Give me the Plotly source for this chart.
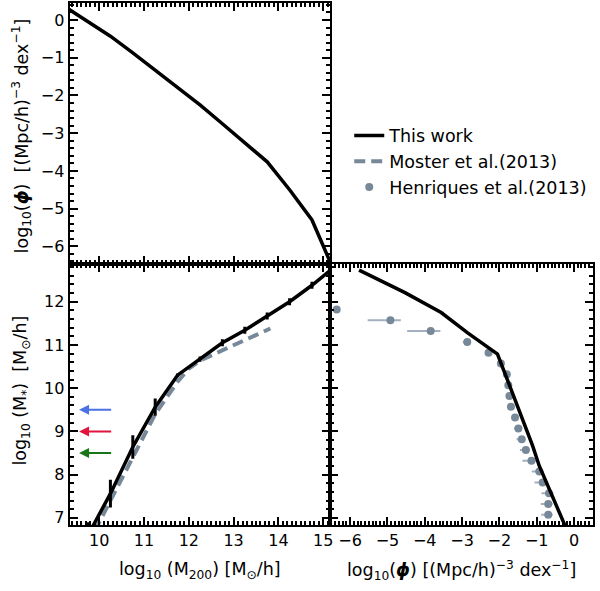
import plotly.graph_objects as go

# ---------------- data ----------------
# Top-left: halo mass function (This work)
hmf_logm = [9.25, 9.75, 10.25, 10.75, 11.25, 11.75, 12.25, 12.75, 13.25, 13.75, 14.25, 14.75, 15.25]
hmf_logphi = [0.34, -0.05, -0.43, -0.87, -1.33, -1.79, -2.25, -2.75, -3.25, -3.76, -4.50, -5.30, -6.67]

# Bottom-left: stellar-to-halo mass relation (This work)
shmr_logm = [9.75, 10.25, 10.75, 11.25, 11.75, 12.25, 12.75, 13.25, 13.75, 14.25, 14.75, 15.25]
shmr_logms = [6.60, 7.56, 8.64, 9.56, 10.30, 10.67, 11.05, 11.34, 11.67, 12.00, 12.38, 12.80]
shmr_err = [0.30, 0.32, 0.27, 0.20, 0.04, 0.06, 0.08, 0.08, 0.08, 0.08, 0.08, 0.08]

# Bottom-left: Moster et al. (2013)
moster_logm = [9.90, 10.25, 10.75, 11.25, 11.75, 12.00, 12.25, 12.75, 13.25, 13.82]
moster_logms = [6.70, 7.40, 8.45, 9.40, 10.15, 10.45, 10.64, 10.87, 11.10, 11.38]

# Bottom-right: stellar mass function (This work)
smf_logphi = [-5.76, -4.53, -3.56, -2.85, -2.05, -1.73, -1.42, -1.11, -0.93, -0.62, -0.18]
smf_logms = [12.73, 12.21, 11.75, 11.28, 10.79, 10.06, 9.37, 8.67, 8.20, 7.60, 6.70]

# Bottom-right: Henriques et al. (2013)
hen_logms = [11.82, 11.57, 11.32, 11.07, 10.82, 10.57, 10.32, 10.07, 9.82, 9.57,
             9.32, 9.07, 8.82, 8.57, 8.32, 8.07, 7.82, 7.57, 7.32, 7.07]
hen_logphi = [-6.36, -4.92, -3.84, -2.86, -2.29, -1.96, -1.80, -1.76, -1.73, -1.69,
              -1.58, -1.49, -1.40, -1.29, -1.14, -0.93, -0.84, -0.67, -0.69, -0.69]
hen_err_minus = [0.0, 0.61, 0.63, 0.12, 0.08, 0.06, 0.06, 0.06, 0.08, 0.08,
                 0.10, 0.12, 0.14, 0.16, 0.24, 0.20, 0.22, 0.20, 0.20, 0.19]
hen_err_plus = [0.0, 0.28, 0.26, 0.06, 0.05, 0.04, 0.05, 0.05, 0.05, 0.06,
                0.06, 0.07, 0.08, 0.10, 0.12, 0.12, 0.15, 0.12, 0.12, 0.12]

# Arrows (stellar-mass thresholds)
arrow_levels = [9.5, 9.0, 8.5]
arrow_colors = ["#4a72e6", "#e0143c", "#187518"]
arrow_x_start = 10.3
arrow_x_end = 9.55

# ---------------- figure ----------------
W, H = 600, 591
FONT = "DejaVu Sans"
GRAY = "#778899"

fig = go.Figure()

fig.add_trace(go.Scatter(x=hmf_logm, y=hmf_logphi, mode="lines",
                         line=dict(color="black", width=3.5),
                         name="This work", legendrank=1, legendgroup="a",
                         xaxis="x", yaxis="y"))

fig.add_trace(go.Scatter(x=moster_logm, y=moster_logms, mode="lines",
                         line=dict(color=GRAY, width=4, dash="11px,6px"),
                         name="Moster et al.(2013)", legendrank=2, legendgroup="b",
                         xaxis="x2", yaxis="y2"))

fig.add_trace(go.Scatter(x=shmr_logm, y=shmr_logms, mode="lines",
                         line=dict(color="black", width=3.5),
                         error_y=dict(type="data", array=shmr_err, color="black",
                                      thickness=3, width=0),
                         showlegend=False, xaxis="x2", yaxis="y2"))

fig.add_trace(go.Scatter(x=hen_logphi, y=hen_logms, mode="markers",
                         marker=dict(color=GRAY, size=8),
                         error_x=dict(type="data", symmetric=False, array=hen_err_plus,
                                      arrayminus=hen_err_minus, color="#a3b0c0",
                                      thickness=2, width=0),
                         name="Henriques et al.(2013)", legendrank=3, legendgroup="c",
                         xaxis="x3", yaxis="y3"))

fig.add_trace(go.Scatter(x=smf_logphi, y=smf_logms, mode="lines",
                         line=dict(color="black", width=3.5),
                         showlegend=False, xaxis="x3", yaxis="y3"))

for yv, col in zip(arrow_levels, arrow_colors):
    fig.add_annotation(x=arrow_x_end, y=yv, ax=arrow_x_start, ay=yv,
                       xref="x2", yref="y2", axref="x2", ayref="y2",
                       text="", showarrow=True, arrowhead=2, arrowsize=1.0,
                       arrowwidth=2, arrowcolor=col)

# axes geometry (pixels -> paper)
xL0, xL1, xR1 = 70 / W, 332 / W, 596 / W
yT1, yM, yB0 = 1 - 3 / H, 1 - 265 / H, 1 - 527 / H

def ax(domain, rng, anchor, labels, dminor, **kw):
    d = dict(domain=domain, range=rng, anchor=anchor, showticklabels=labels,
             ticks="inside", ticklen=8, tickwidth=1.5, tickcolor="black",
             showline=True, linewidth=2, linecolor="black", mirror="allticks",
             showgrid=False, zeroline=False, dtick=1,
             minor=dict(ticks="inside", ticklen=4, tickcolor="black",
                        dtick=dminor, showgrid=False),
             tickfont=dict(family=FONT, size=16, color="black"))
    d.update(kw)
    return d

XR = [9.34, 15.16]
YPHI = [-6.47, 0.45]
YMS = [6.83, 12.87]
XPHI = [-6.53, 0.51]

fig.update_layout(
    width=W, height=H, margin=dict(l=0, r=0, t=0, b=0),
    plot_bgcolor="white", paper_bgcolor="white",
    font=dict(family=FONT, size=16, color="black"),
    xaxis=ax([xL0, xL1], XR, "y", False, 0.1),
    yaxis=ax([yM, yT1], YPHI, "x", True, 0.2),
    xaxis2=ax([xL0, xL1], XR, "y2", True, 0.1),
    yaxis2=ax([yB0, yM], YMS, "x2", True, 0.2),
    xaxis3=ax([xL1, xR1], XPHI, "y3", True, 0.1),
    yaxis3=ax([yB0, yM], YMS, "x3", False, 0.2),
    legend=dict(x=351 / W, y=1 - 118 / H, xanchor="left", yanchor="top",
                bgcolor="rgba(0,0,0,0)", borderwidth=0, itemwidth=30,
                traceorder="grouped", font=dict(family=FONT, size=17.5),
                tracegroupgap=0),
)

# axis titles
common = dict(xref="paper", yref="paper", showarrow=False, xanchor="center",
              yanchor="middle", font=dict(family=FONT, size=17.5))
fig.add_annotation(x=22 / W, y=1 - 136 / H, textangle=-90,
                   text="log<sub>10</sub>(<b><i>ϕ</i></b>)  [(Mpc/h)<sup>−3</sup> dex<sup>−1</sup>]",
                   **common)
fig.add_annotation(x=22 / W, y=1 - 392 / H, textangle=-90,
                   text="log<sub>10</sub> (M<sub>*</sub>)  [M<sub>⊙</sub>/h]", **common)
fig.add_annotation(x=201 / W, y=1 - 572 / H,
                   text="log<sub>10</sub> (M<sub>200</sub>) [M<sub>⊙</sub>/h]", **common)
fig.add_annotation(x=464 / W, y=1 - 572 / H,
                   text="log<sub>10</sub>(<b><i>ϕ</i></b>) [(Mpc/h)<sup>−3</sup> dex<sup>−1</sup>]",
                   **common)

fig.write_html("out.html", config={"displayModeBar": False},
               post_script="document.body.style.margin='0px';document.body.style.overflow='hidden';")
